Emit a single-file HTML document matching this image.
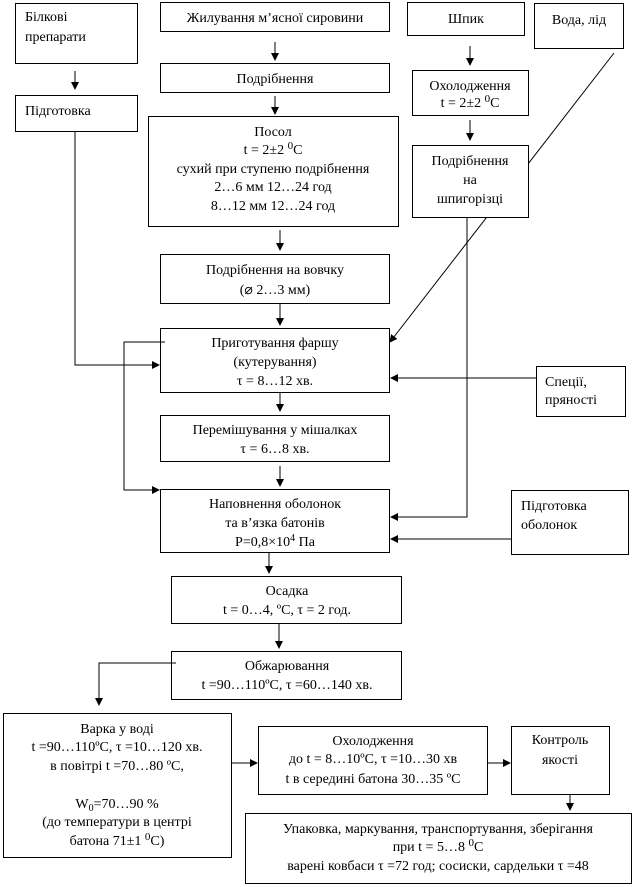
<!DOCTYPE html>
<html><head><meta charset="utf-8"><style>
html,body{margin:0;padding:0;background:#fff;}
svg{display:block;}
text{font-family:"Liberation Serif","DejaVu Serif",serif;font-size:14px;fill:#000;}
</style></head><body>
<svg width="642" height="887" viewBox="0 0 642 887" xmlns="http://www.w3.org/2000/svg">
<defs><marker id="a" markerWidth="8" markerHeight="8" refX="7" refY="4" orient="auto" markerUnits="userSpaceOnUse"><path d="M0,0 L8,4 L0,8 z" fill="#000"/></marker></defs>
<g stroke="#000" stroke-width="1" fill="none">
<line x1="614" y1="53" x2="390" y2="342" marker-end="url(#a)"/>
<polyline points="467,218 467,517 391,517" marker-end="url(#a)"/>
<polyline points="75,131 75,365 159,365" marker-end="url(#a)"/>
<polyline points="165,342 124,342 124,490 159,490" marker-end="url(#a)"/>
<line x1="536" y1="378" x2="391" y2="378" marker-end="url(#a)"/>
<line x1="511" y1="539" x2="391" y2="539" marker-end="url(#a)"/>
<line x1="75" y1="71" x2="75" y2="89" marker-end="url(#a)"/>
<line x1="275" y1="42" x2="275" y2="60" marker-end="url(#a)"/>
<line x1="275" y1="96" x2="275" y2="114" marker-end="url(#a)"/>
<line x1="470" y1="46" x2="470" y2="65" marker-end="url(#a)"/>
<line x1="470" y1="120" x2="470" y2="140" marker-end="url(#a)"/>
<line x1="280" y1="230" x2="280" y2="250" marker-end="url(#a)"/>
<line x1="280" y1="304" x2="280" y2="325" marker-end="url(#a)"/>
<line x1="280" y1="393" x2="280" y2="411" marker-end="url(#a)"/>
<line x1="280" y1="466" x2="280" y2="486" marker-end="url(#a)"/>
<line x1="269" y1="553" x2="269" y2="573" marker-end="url(#a)"/>
<line x1="279" y1="624" x2="279" y2="648" marker-end="url(#a)"/>
<polyline points="176,663 99,663 99,705" marker-end="url(#a)"/>
<line x1="232" y1="763" x2="257" y2="763" marker-end="url(#a)"/>
<line x1="488" y1="763" x2="510" y2="763" marker-end="url(#a)"/>
<line x1="570" y1="789" x2="570" y2="810" marker-end="url(#a)"/>
</g>
<g stroke="#000" stroke-width="1" fill="#fff">
<rect x="15.5" y="3.5" width="122" height="60"/>
<rect x="160.5" y="2.5" width="229" height="29"/>
<rect x="407.5" y="2.5" width="117" height="33"/>
<rect x="534.5" y="3.5" width="89" height="45"/>
<rect x="15.5" y="95.5" width="122" height="36"/>
<rect x="160.5" y="63.5" width="229" height="29"/>
<rect x="412.5" y="70.5" width="116" height="45"/>
<rect x="148.5" y="116.5" width="250" height="110"/>
<rect x="412.5" y="145.5" width="116" height="72"/>
<rect x="160.5" y="254.5" width="229" height="49"/>
<rect x="160.5" y="328.5" width="229" height="64"/>
<rect x="536.5" y="366.5" width="89" height="50"/>
<rect x="160.5" y="415.5" width="229" height="46"/>
<rect x="160.5" y="489.5" width="229" height="63"/>
<rect x="511.5" y="490.5" width="117" height="64"/>
<rect x="171.5" y="576.5" width="230" height="47"/>
<rect x="171.5" y="651.5" width="230" height="48"/>
<rect x="3.5" y="713.5" width="228" height="144"/>
<rect x="258.5" y="726.5" width="229" height="68"/>
<rect x="511.5" y="726.5" width="98" height="68"/>
<rect x="245.5" y="813.5" width="386" height="70"/>
</g>
<line x1="165" y1="342" x2="124" y2="342" stroke="#000"/>
<line x1="176" y1="663" x2="160" y2="663" stroke="#000"/>
<line x1="467" y1="218" x2="467" y2="230" stroke="#000"/>
<g>
<text x="25" y="21">Білкові</text>
<text x="25" y="41">препарати</text>
<text x="275" y="22" text-anchor="middle">Жилування м’ясної сировини</text>
<text x="466" y="23" text-anchor="middle">Шпик</text>
<text x="579" y="24" text-anchor="middle">Вода, лід</text>
<text x="25" y="115">Підготовка</text>
<text x="275" y="83" text-anchor="middle">Подрібнення</text>
<text x="470" y="90" text-anchor="middle">Охолодження</text>
<text x="470" y="107" text-anchor="middle">t = 2±2 <tspan dy="-5" font-size="11">0</tspan><tspan dy="5">C</tspan></text>
<text x="273" y="136" text-anchor="middle">Посол</text>
<text x="273" y="154" text-anchor="middle">t = 2±2 <tspan dy="-5" font-size="11">0</tspan><tspan dy="5">C</tspan></text>
<text x="273" y="173" text-anchor="middle">сухий при ступеню подрібнення</text>
<text x="273" y="191" text-anchor="middle">2…6 мм  12…24 год</text>
<text x="273" y="210" text-anchor="middle">8…12 мм  12…24 год</text>
<text x="470" y="165" text-anchor="middle">Подрібнення</text>
<text x="470" y="184" text-anchor="middle">на</text>
<text x="470" y="203" text-anchor="middle">шпигорізці</text>
<text x="275" y="274" text-anchor="middle">Подрібнення на вовчку</text>
<text x="275" y="294" text-anchor="middle">(⌀ 2…3 мм)</text>
<text x="275" y="347" text-anchor="middle">Приготування фаршу</text>
<text x="275" y="366" text-anchor="middle">(кутерування)</text>
<text x="275" y="385" text-anchor="middle">τ = 8…12 хв.</text>
<text x="545" y="386">Спеції,</text>
<text x="545" y="404">пряності</text>
<text x="275" y="434" text-anchor="middle">Перемішування у мішалках</text>
<text x="275" y="453" text-anchor="middle">τ = 6…8 хв.</text>
<text x="275" y="508" text-anchor="middle">Наповнення оболонок</text>
<text x="275" y="527" text-anchor="middle">та в’язка батонів</text>
<text x="275" y="546" text-anchor="middle">P=0,8×10<tspan dy="-5" font-size="10">4</tspan><tspan dy="5"> Па</tspan></text>
<text x="521" y="510">Підготовка</text>
<text x="521" y="529">оболонок</text>
<text x="287" y="595" text-anchor="middle">Осадка</text>
<text x="287" y="614" text-anchor="middle">t = 0…4, ºC, τ = 2 год.</text>
<text x="287" y="670" text-anchor="middle">Обжарювання</text>
<text x="287" y="689" text-anchor="middle">t =90…110ºC, τ =60…140 хв.</text>
<text x="117" y="733" text-anchor="middle">Варка у воді</text>
<text x="117" y="751" text-anchor="middle">t =90…110ºC, τ =10…120 хв.</text>
<text x="117" y="770" text-anchor="middle">в повітрі t =70…80 ºC,</text>
<text x="117" y="808" text-anchor="middle">W<tspan dy="3" font-size="10">0</tspan><tspan dy="-3">=70…90 %</tspan></text>
<text x="117" y="826" text-anchor="middle">(до температури в центрі</text>
<text x="117" y="845" text-anchor="middle">батона 71±1 <tspan dy="-5" font-size="11">0</tspan><tspan dy="5">C)</tspan></text>
<text x="373" y="745" text-anchor="middle">Охолодження</text>
<text x="373" y="763" text-anchor="middle">до t = 8…10ºC, τ =10…30 хв</text>
<text x="373" y="783" text-anchor="middle">t в середині батона 30…35 ºC</text>
<text x="560" y="744" text-anchor="middle">Контроль</text>
<text x="560" y="764" text-anchor="middle">якості</text>
<text x="438" y="833" text-anchor="middle">Упаковка, маркування, транспортування, зберігання</text>
<text x="438" y="851" text-anchor="middle">при t = 5…8 <tspan dy="-5" font-size="11">0</tspan><tspan dy="5">C</tspan></text>
<text x="438" y="870" text-anchor="middle">варені ковбаси τ =72 год; сосиски, сардельки τ =48</text>
</g>
</svg>
</body></html>
